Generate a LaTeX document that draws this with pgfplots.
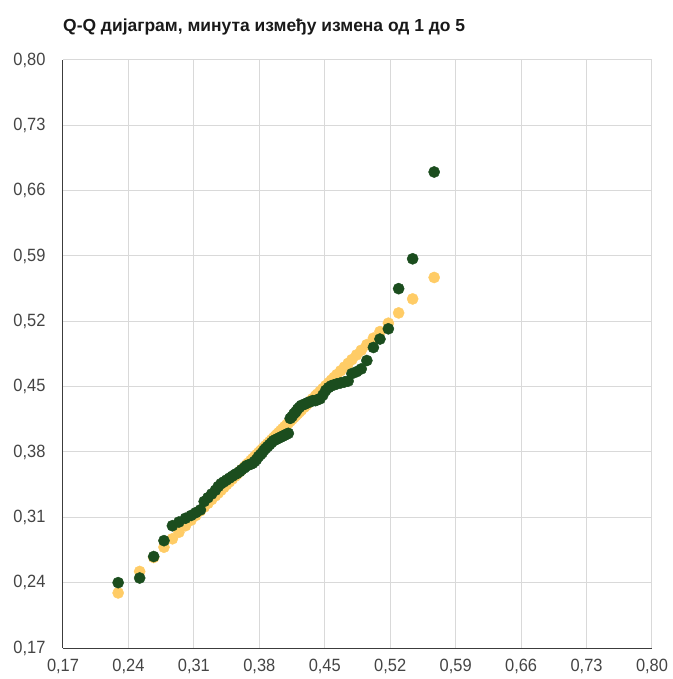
\documentclass[border=0pt]{standalone}
\usepackage{fontspec}
\setmainfont{Liberation Sans}
\usepackage{pgfplots}
\pgfplotsset{compat=1.18}
\usepackage{pgfplotstable}

\definecolor{qqyellow}{RGB}{255,204,102}
\definecolor{qqgreen}{RGB}{27,77,30}
\definecolor{gridgray}{RGB}{217,217,217}
\definecolor{axisgray}{RGB}{60,60,60}
\definecolor{labelgray}{RGB}{68,68,68}

% x: theoretical quantile, y: sample quantile (minutes between edits, 1 to 5)
\pgfplotstableread{
x y
0.229 0.240
0.252 0.245
0.267 0.268
0.278 0.285
0.287 0.301
0.294 0.305
0.301 0.309
0.307 0.312
0.312 0.315
0.317 0.318
0.321 0.327
0.325 0.331
0.329 0.335
0.333 0.339
0.336 0.343
0.339 0.346
0.342 0.348
0.345 0.350
0.348 0.352
0.351 0.354
0.354 0.356
0.356 0.357
0.359 0.359
0.361 0.361
0.364 0.363
0.366 0.365
0.368 0.366
0.371 0.367
0.373 0.368
0.375 0.370
0.377 0.372
0.379 0.375
0.381 0.377
0.383 0.379
0.385 0.382
0.387 0.384
0.389 0.386
0.391 0.388
0.393 0.390
0.395 0.392
0.397 0.393
0.399 0.394
0.401 0.395
0.403 0.396
0.405 0.397
0.407 0.398
0.409 0.399
0.411 0.400
0.413 0.416
0.415 0.418
0.417 0.421
0.419 0.423
0.421 0.426
0.423 0.428
0.425 0.430
0.428 0.431
0.430 0.432
0.432 0.433
0.435 0.434
0.437 0.435
0.440 0.435
0.442 0.436
0.445 0.437
0.448 0.441
0.451 0.446
0.454 0.449
0.457 0.451
0.460 0.452
0.463 0.453
0.467 0.454
0.471 0.455
0.475 0.456
0.479 0.464
0.484 0.466
0.489 0.469
0.495 0.478
0.502 0.492
0.509 0.501
0.518 0.512
0.529 0.555
0.544 0.587
0.567 0.680
}\qqdata

\begin{document}
\begin{tikzpicture}
\begin{axis}[
  at={(0bp,0bp)}, anchor=south west,
  scale only axis, width=589bp, height=588bp,
  xmin=0.17, xmax=0.80, ymin=0.17, ymax=0.80,
  xtick={0.17,0.24,0.31,0.38,0.45,0.52,0.59,0.66,0.73,0.80},
  ytick={0.17,0.24,0.31,0.38,0.45,0.52,0.59,0.66,0.73,0.80},
  axis x line*=bottom, axis y line*=left,
  axis line style={axisgray, line width=1bp},
  grid=major, major grid style={gridgray, line width=1bp},
  major tick length=0pt,
  tick label style={font=\fontsize{16.5}{18}\selectfont, text=labelgray, yscale=1.08},
  yticklabel style={xshift=-14bp},
  xticklabel style={yshift=-7bp},
  /pgf/number format/.cd, use comma, fixed, fixed zerofill, precision=2, assume math mode=true,
]
\addplot[only marks, mark=*, mark size=5.6bp, color=qqyellow, mark options={draw=none, fill=qqyellow}]
  table[x=x, y=x]{\qqdata};
\addplot[only marks, mark=*, mark size=5.6bp, color=qqgreen, mark options={draw=none, fill=qqgreen}]
  table[x=x, y=y]{\qqdata};
\end{axis}
\node[anchor=base west, font=\bfseries\fontsize{17.5}{20}\selectfont, text=black!90, inner sep=0pt]
  at (0bp,616bp) {Q-Q дијаграм, минута између измена од 1 до 5};
\pgfresetboundingbox
\path (-63bp,-31bp) rectangle (610bp,648bp);
\end{tikzpicture}
\end{document}
